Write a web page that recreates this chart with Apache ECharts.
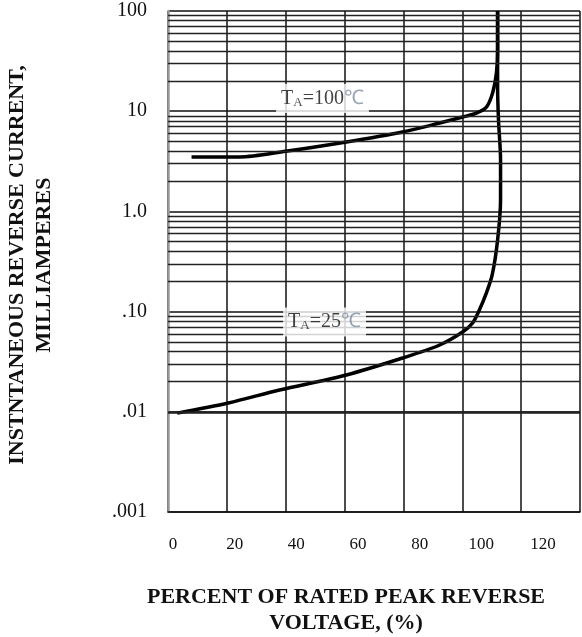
<!DOCTYPE html>
<html>
<head>
<meta charset="utf-8">
<script src="https://cdn.jsdelivr.net/npm/echarts@6/dist/echarts.min.js"></script>
<style>html,body{margin:0;padding:0;background:#fff}#c{width:582px;height:637px}</style>
</head>
<body>
<div id="c"></div>
<script>
// Data (percent of rated peak reverse voltage, reverse current mA)
var t100X = [8.0, 24.3, 40.0, 60.6, 79.7, 92.3, 100.1, 104.8, 108.2, 110.3, 111.6, 112.0, 112.0];
var t100Y = [3.49, 3.49, 3.98, 4.93, 6.20, 7.62, 8.75, 9.59, 11.0, 15.2, 24.1, 40.8, 100];
var t25X = [3.1, 20.5, 37.9, 60.6, 79.7, 92.3, 100.1, 103.5, 105.8, 108.2, 110.2, 112.0, 113.0, 113.0, 112.3, 112.0, 112.0, 112.0];
var t25Y = [0.0097, 0.01225, 0.0165, 0.0233, 0.0344, 0.0464, 0.0625, 0.0769, 0.1037, 0.1535, 0.235, 0.519, 1.30, 3.26, 8.17, 17.5, 40.8, 100];
var curveLabels = ['T_A=100℃', 'T_A=25℃'];
var curveLabelPos = [[52.5, 13.4], [53.2, 0.0787]];
var yTickValues = [0.001, 0.01, 0.1, 1, 10, 100];
var yTickLabels = ['.001', '.01', '.10', '1.0', '10', '100'];
var xTickValues = [0, 20, 40, 60, 80, 100, 120];
var xTickLabels = ['0', '20', '40', '60', '80', '100', '120'];
var minorMultipliers = [2, 3, 4, 5, 6, 7, 8, 9];

function pairs(xs, ys) { return xs.map(function (x, i) { return [x, ys[i]]; }); }
var minorLines = [];
yTickValues.slice(0, 5).forEach(function (d) {
  minorMultipliers.forEach(function (m) { minorLines.push({ yAxis: +(d * m).toPrecision(3) }); });
});

var FONT = 'Liberation Serif';
var chart = echarts.init(document.getElementById('c'), null, { renderer: 'canvas' });
chart.setOption({
  backgroundColor: '#fff',
  animation: false,
  grid: [
    { left: 168, right: 2, top: 11, bottom: 125 },
    { left: 173, width: 407, top: 11, bottom: 125 }
  ],
  xAxis: [
    { type: 'value', gridIndex: 0, min: 0, max: 140, interval: 20,
      axisLine: { show: true, lineStyle: { color: '#111', width: 1.5 } },
      axisTick: { show: false }, axisLabel: { show: false },
      splitLine: { show: true, lineStyle: { color: '#111', width: 1.5 } } },
    { type: 'value', gridIndex: 1, min: 0, max: 132, interval: 20, position: 'bottom',
      axisLine: { show: false }, axisTick: { show: false }, splitLine: { show: false },
      axisLabel: { show: true, margin: 24, fontFamily: FONT, fontSize: 17, color: '#111',
        showMinLabel: true, showMaxLabel: false,
        formatter: function (v) { var i = xTickValues.indexOf(v); return i >= 0 ? xTickLabels[i] : ''; } } }
  ],
  yAxis: [
    { type: 'log', logBase: 10, gridIndex: 0, min: 0.001, max: 100,
      axisLine: { show: true, lineStyle: { color: '#999', width: 2.5 } },
      axisTick: { show: false },
      axisLabel: { margin: 21, fontFamily: FONT, fontSize: 20, color: '#111',
        formatter: function (v) {
          for (var i = 0; i < yTickValues.length; i++) { if (Math.abs(v / yTickValues[i] - 1) < 1e-6) return yTickLabels[i]; }
          return '';
        } },
      splitLine: { show: true, lineStyle: { color: '#111', width: 1.5 } } },
    { type: 'value', gridIndex: 1, show: false, min: 0, max: 1 }
  ],
  series: [
    { type: 'line', name: 'grid', xAxisIndex: 0, yAxisIndex: 0, data: [], silent: true,
      markLine: { silent: true, symbol: 'none', label: { show: false },
        lineStyle: { color: '#222', width: 1.3, type: 'solid' }, data: minorLines } },
    { type: 'line', name: 'TA=100', xAxisIndex: 0, yAxisIndex: 0, data: pairs(t100X, t100Y),
      showSymbol: false, smooth: 0.3, lineStyle: { color: '#000', width: 3.5 } },
    { type: 'line', name: 'TA=25', xAxisIndex: 0, yAxisIndex: 0, data: pairs(t25X, t25Y),
      showSymbol: false, smooth: 0.3, lineStyle: { color: '#000', width: 3.5 } },
    { type: 'scatter', name: 'labels', xAxisIndex: 0, yAxisIndex: 0, symbolSize: 0, z: 10,
      data: curveLabelPos.map(function (p, i) { return { value: p, name: curveLabels[i] }; }),
      label: { show: true, position: 'inside', backgroundColor: '#fff', padding: [4, 5, 4, 5],
        formatter: function (p) {
          var parts = p.name.split('_A');
          var rest = parts[1].replace('℃', '');
          return '{t|' + parts[0] + '}{s|A}{t|' + rest + '}{c|℃}';
        },
        rich: {
          t: { fontFamily: FONT, fontSize: 20, color: '#111' },
          s: { fontFamily: FONT, fontSize: 13, color: '#222', padding: [8, 0, 0, 0] },
          c: { fontFamily: FONT, fontSize: 20, color: '#7d8da0' }
        } } }
  ],
  graphic: [
    { type: 'text', x: 31, y: 265, rotation: Math.PI / 2,
      style: { text: 'INSTNTANEOUS REVERSE CURRENT,\nMILLIAMPERES', font: 'bold 22px "Liberation Serif"',
        fill: '#111', align: 'center', verticalAlign: 'middle', lineHeight: 27 } },
    { type: 'text', x: 346, y: 610,
      style: { text: 'PERCENT OF RATED PEAK REVERSE\nVOLTAGE, (%)', font: 'bold 22px "Liberation Serif"',
        fill: '#111', align: 'center', verticalAlign: 'middle', lineHeight: 26 } }
  ]
});
</script>
</body>
</html>
